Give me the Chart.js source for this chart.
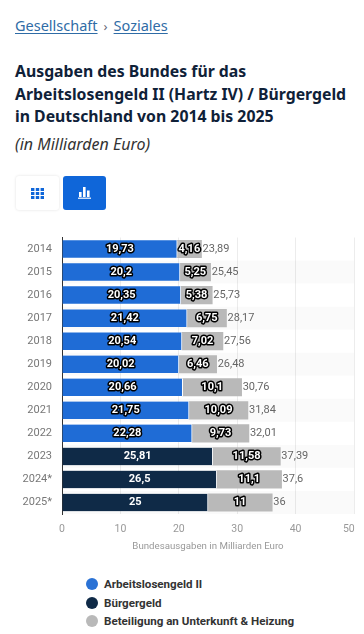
<!DOCTYPE html>
<html lang="de">
<head>
<meta charset="utf-8">
<title>Ausgaben des Bundes</title>
<script src="https://cdn.jsdelivr.net/npm/chart.js@4"></script>
<style>
  html, body { margin: 0; padding: 0; background: #fff; }
  body { width: 364px; height: 634px; overflow: hidden; position: relative; font-family: "Noto Sans", sans-serif; }
  .crumbs { position: absolute; left: 15px; top: 14px; font-size: 14.5px; line-height: 22px; color: #2f6ca6; white-space: nowrap; }
  .crumbs a { color: #2f6ca6; text-decoration: underline; text-underline-offset: 2px; }
  .crumbs span { color: #667; margin: 0 6px; font-size: 13px; }
  h1 { position: absolute; left: 15px; top: 60px; margin: 0; font-size: 15.8px; line-height: 22.7px; font-weight: 700; color: #0f2138; white-space: nowrap; }
  .sub { position: absolute; left: 15px; top: 133px; font-size: 16px; line-height: 22px; font-style: italic; color: #333; white-space: nowrap; }
  .btn { position: absolute; top: 176px; width: 43px; height: 34px; border-radius: 3px; display: flex; align-items: center; justify-content: center; }
  .btn.table { left: 16px; background: #fff; box-shadow: 0 0 3px rgba(0,0,0,.12); }
  .btn.bars { left: 63px; background: #0f66d9; }
  #chartWrap { position: absolute; left: 0; top: 230px; width: 364px; height: 322px; }
  .legend { position: absolute; left: 86px; top: 575px; font-family: Roboto, sans-serif; font-weight: 700; font-size: 11.6px; color: #333; }
  .legend div { height: 18.5px; line-height: 18.5px; position: relative; padding-left: 18px; white-space: nowrap; }
  .legend i { position: absolute; left: 0; top: 3px; width: 12px; height: 12px; border-radius: 50%; }
</style>
</head>
<body>
<div class="crumbs"><a>Gesellschaft</a><span>›</span><a>Soziales</a></div>
<h1>Ausgaben des Bundes für das<br>Arbeitslosengeld II (Hartz IV) / Bürgergeld<br>in Deutschland von 2014 bis 2025</h1>
<div class="sub">(in Milliarden Euro)</div>
<div class="btn table">
  <svg width="13" height="11" viewBox="0 0 13 11" fill="#0f66d9">
    <rect x="0" y="0" width="3.4" height="3"/><rect x="4.8" y="0" width="3.4" height="3"/><rect x="9.6" y="0" width="3.4" height="3"/>
    <rect x="0" y="4" width="3.4" height="3"/><rect x="4.8" y="4" width="3.4" height="3"/><rect x="9.6" y="4" width="3.4" height="3"/>
    <rect x="0" y="8" width="3.4" height="3"/><rect x="4.8" y="8" width="3.4" height="3"/><rect x="9.6" y="8" width="3.4" height="3"/>
  </svg>
</div>
<div class="btn bars">
  <svg width="13" height="12" viewBox="0 0 13 12" fill="#fff">
    <rect x="1" y="5" width="2.6" height="5"/><rect x="5" y="0" width="2.6" height="10"/><rect x="9" y="3.5" width="2.6" height="6.5"/>
    <rect x="0" y="10.6" width="13" height="1.2"/>
  </svg>
</div>
<div id="chartWrap"><canvas id="ausgabenChart" width="364" height="322"></canvas></div>
<div class="legend">
  <div><i style="background:#2a72d5"></i>Arbeitslosengeld II</div>
  <div><i style="background:#0f2a47"></i>Bürgergeld</div>
  <div><i style="background:#b9b9b9"></i>Beteiligung an Unterkunft &amp; Heizung</div>
</div>

<script>
const years = ['2014','2015','2016','2017','2018','2019','2020','2021','2022','2023','2024*','2025*'];
const arbeitslosengeld = [19.73,20.2,20.35,21.42,20.54,20.02,20.66,21.75,22.28,null,null,null];
const buergergeld = [null,null,null,null,null,null,null,null,null,25.81,26.5,25];
const unterkunft = [4.16,5.25,5.38,6.75,7.02,6.46,10.1,10.09,9.73,11.58,11.1,11];
const totals = [23.89,25.45,25.73,28.17,27.56,26.48,30.76,31.84,32.01,37.39,37.6,36];
const xTicks = [0,10,20,30,40,50];

function fmt(v) {
  return String(v).replace('.', ',');
}

// pale stripes behind every second row
const stripes = {
  id: 'stripes',
  beforeDatasetsDraw(chart) {
    const { ctx, chartArea, scales } = chart;
    const band = scales.y.height / years.length;
    ctx.save();
    ctx.fillStyle = 'rgba(0,0,0,0.018)';
    years.forEach((y, i) => {
      if (i % 2 === 1) {
        ctx.fillRect(chartArea.left, scales.y.getPixelForValue(i) - band / 2, chartArea.width, band);
      }
    });
    ctx.restore();
  }
};

// value labels inside the bars plus the total behind each stack
const barLabels = {
  id: 'barLabels',
  afterDatasetsDraw(chart) {
    const ctx = chart.ctx;
    ctx.save();
    ctx.textBaseline = 'middle';
    ctx.lineJoin = 'round';
    chart.data.datasets.forEach((ds, d) => {
      chart.getDatasetMeta(d).data.forEach((bar, i) => {
        if (ds.data[i] == null) return;
        const mid = (bar.x + bar.base) / 2;
        ctx.font = '700 11px Roboto';
        ctx.textAlign = 'center';
        if (ds.label !== 'Bürgergeld') {
          ctx.lineWidth = 3;
          ctx.strokeStyle = '#000';
          ctx.strokeText(fmt(ds.data[i]), mid, bar.y);
        }
        ctx.fillStyle = '#fff';
        ctx.fillText(fmt(ds.data[i]), mid, bar.y);
      });
    });
    const top = chart.getDatasetMeta(2).data;
    ctx.font = '400 11px Roboto';
    ctx.textAlign = 'left';
    ctx.fillStyle = '#666';
    top.forEach((bar, i) => {
      ctx.fillText(fmt(totals[i]), bar.x + 1, bar.y);
    });
    ctx.restore();
  }
};

const chart = new Chart(document.getElementById('ausgabenChart').getContext('2d'), {
  type: 'bar',
  data: {
    labels: years,
    datasets: [
      { label: 'Arbeitslosengeld II', data: arbeitslosengeld, backgroundColor: '#1f6cd6', borderColor: '#fff', borderWidth: { right: 1 }, borderSkipped: false },
      { label: 'Bürgergeld', data: buergergeld, backgroundColor: '#0f2a47', borderColor: '#fff', borderWidth: { right: 1 }, borderSkipped: false },
      { label: 'Beteiligung an Unterkunft & Heizung', data: unterkunft, backgroundColor: '#b9b9b9' }
    ]
  },
  options: {
    indexAxis: 'y',
    responsive: false,
    animation: false,
    layout: { padding: { top: 7.5, right: 10, left: 0, bottom: 0 } },
    datasets: { bar: { barThickness: 17.5 } },
    plugins: { legend: { display: false }, tooltip: { enabled: false } },
    scales: {
      x: {
        stacked: true,
        min: 0,
        max: 50,
        afterBuildTicks(axis) { axis.ticks = xTicks.map(v => ({ value: v })); },
        grid: { color: '#ececec', drawTicks: false },
        border: { display: false },
        ticks: {
          color: '#999',
          font: { family: 'Roboto', size: 10.5 },
          padding: 9,
          maxRotation: 0,
          // the last label sits a little inside the plot edge
          callback: v => v === 50 ? v + '\u00a0\u00a0\u00a0\u00a0' : v
        },
        title: { display: true, text: 'Bundesausgaben in Milliarden Euro', color: '#999', font: { family: 'Roboto', size: 9.7 }, padding: { top: 6, bottom: 0 } },
        afterFit(axis) { axis.height = 38; axis.paddingLeft = 0; axis.paddingRight = 0; }
      },
      y: {
        stacked: true,
        grid: { display: false },
        border: { color: '#333', width: 1 },
        ticks: { color: '#777', font: { family: 'Roboto', size: 11 }, padding: 2 },
        afterFit(axis) { axis.width = 62; axis.paddingTop = 0; axis.paddingBottom = 0; }
      }
    }
  },
  plugins: [stripes, barLabels]
});
</script>
</body>
</html>
